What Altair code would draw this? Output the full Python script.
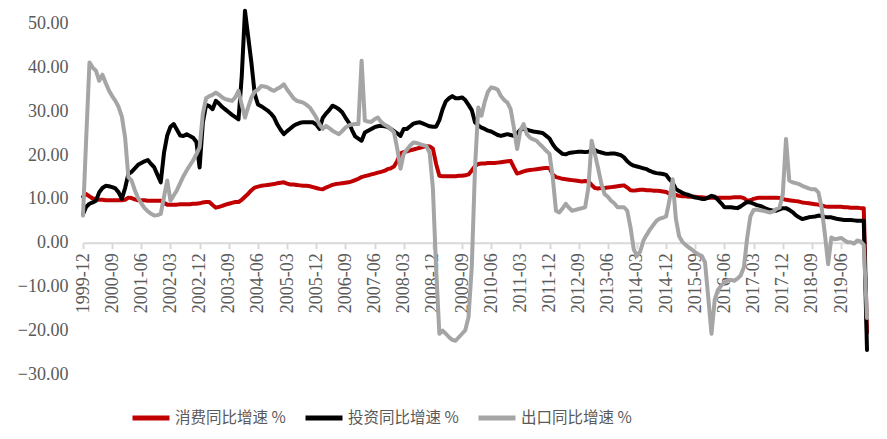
import altair as alt
import pandas as pd

months = pd.period_range("1999-12", periods=243, freq="M").strftime("%Y-%m").tolist()
tick_labels = months[::9]

series_names = ["消费同比增速 %", "投资同比增速 %", "出口同比增速 %"]
series_colors = ["#C00000", "#000000", "#A5A5A5"]

consumption = [
    10.5, 11.1, 10.6, 10.1, 10.0, 9.8, 9.8, 9.7, 9.7, 9.7,
    9.7, 9.7, 9.7, 9.8, 10.3, 10.2, 9.9, 9.7, 9.7, 9.7,
    9.6, 9.6, 9.6, 9.6, 9.6, 9.1, 8.7, 8.7, 8.7, 8.7,
    8.8, 8.8, 8.8, 8.8, 8.9, 8.9, 9.0, 9.2, 9.3, 9.3,
    8.6, 8.0, 8.2, 8.4, 8.7, 8.9, 9.1, 9.3, 9.3, 9.8,
    10.5, 11.2, 12.0, 12.6, 12.8, 13.0, 13.1, 13.2, 13.3, 13.4,
    13.6, 13.7, 13.8, 13.5, 13.3, 13.3, 13.2, 13.1, 13.0, 13.0,
    12.9, 12.7, 12.5, 12.3, 12.2, 12.6, 12.9, 13.2, 13.4, 13.5,
    13.6, 13.7, 13.8, 14.0, 14.3, 14.6, 15.0, 15.2, 15.4, 15.6,
    15.8, 16.0, 16.2, 16.4, 16.8, 17.0, 17.4, 18.7, 20.4, 20.7,
    20.9, 21.1, 21.3, 21.5, 21.7, 21.9, 22.1, 22.0, 21.5, 18.0,
    15.3, 15.2, 15.2, 15.2, 15.2, 15.2, 15.3, 15.3, 15.4, 15.6,
    16.5, 17.5, 18.0, 18.1, 18.1, 18.2, 18.2, 18.2, 18.3, 18.4,
    18.5, 18.6, 18.7, 17.2, 15.8, 16.0, 16.3, 16.5, 16.6, 16.7,
    16.8, 16.9, 17.0, 17.1, 17.0, 15.6, 15.0, 14.8, 14.6, 14.5,
    14.4, 14.3, 14.2, 14.1, 14.0, 14.1, 14.0, 13.2, 12.5, 12.4,
    12.5, 12.5, 12.6, 12.7, 12.8, 12.9, 13.0, 13.1, 12.6, 12.0,
    11.9, 12.0, 12.1, 12.1, 12.0, 12.0, 11.9, 11.9, 11.8, 11.7,
    11.6, 11.2, 11.0, 10.9, 10.7, 10.6, 10.6, 10.5, 10.5, 10.5,
    10.4, 10.4, 10.3, 10.3, 10.3, 10.3, 10.3, 10.3, 10.3, 10.3,
    10.3, 10.4, 10.4, 10.4, 10.2, 9.6, 9.7, 10.0, 10.2, 10.3,
    10.3, 10.3, 10.3, 10.3, 10.3, 10.2, 10.0, 9.8, 9.7, 9.6,
    9.5, 9.4, 9.2, 9.1, 9.0, 8.9, 8.8, 8.7, 8.5, 8.3,
    8.2, 8.2, 8.2, 8.2, 8.2, 8.1, 8.1, 8.0, 8.0, 8.0,
    7.9, 7.9, -20.5,
]

investment = [
    6.5, 8.2, 8.9, 9.2, 9.6, 11.5, 12.5, 13.0, 12.9, 12.7,
    12.4, 11.5, 10.0, 12.5, 15.7, 16.2, 17.0, 17.8, 18.2, 18.6,
    18.9, 18.0, 17.2, 15.5, 13.8, 20.5, 24.5, 26.5, 27.1, 25.8,
    24.5, 24.4, 24.8, 24.4, 24.0, 23.0, 17.2, 27.5, 31.5, 31.2,
    30.5, 32.4, 31.8, 31.0, 30.4, 29.8, 29.2, 28.7, 28.2, 38.0,
    53.0, 47.0, 41.0, 34.0, 31.6, 31.2, 30.7, 30.2, 29.5, 28.6,
    27.0, 25.8, 24.8, 25.5, 26.1, 26.7, 27.1, 27.4, 27.5, 27.5,
    27.5, 27.5, 27.0, 26.0, 28.5, 29.5, 30.3, 31.3, 31.0, 30.5,
    29.8, 28.6, 27.5, 25.8, 24.3, 23.8, 23.3, 25.2, 25.6, 26.0,
    26.4, 26.6, 26.7, 26.6, 26.5, 26.0, 25.5, 25.0, 24.4, 26.0,
    26.0, 26.6, 27.2, 27.4, 27.5, 27.2, 26.9, 26.6, 26.5, 26.5,
    28.0, 30.5, 32.3, 33.0, 33.5, 33.0, 33.0, 33.2, 32.6, 31.5,
    30.3, 27.5, 26.8, 26.3, 26.0, 25.6, 25.4, 25.0, 24.6, 24.4,
    24.6, 24.8, 24.6, 24.4, 25.0, 25.8, 26.0, 25.8, 25.6, 25.4,
    25.3, 25.2, 25.0, 24.4, 23.8, 22.5, 21.5, 20.9, 20.3, 20.2,
    20.5, 20.6, 20.7, 20.8, 20.8, 20.7, 20.8, 21.0, 21.2, 20.8,
    20.6, 20.4, 20.3, 20.4, 20.4, 20.2, 20.0, 19.5, 18.6, 18.0,
    17.6, 17.4, 17.2, 17.0, 16.8, 16.4, 16.1, 15.9, 15.8, 15.7,
    15.5, 14.5, 13.7, 12.3, 11.8, 11.4, 11.1, 10.9, 10.6, 10.3,
    10.2, 10.0, 10.0, 10.3, 10.7, 10.5, 9.8, 9.0, 8.1, 8.1,
    8.1, 8.0, 7.9, 8.3, 8.8, 9.3, 9.2, 8.9, 8.6, 8.4,
    8.1, 7.7, 7.5, 7.3, 7.3, 7.6, 7.9, 7.9, 7.5, 7.0,
    6.3, 5.8, 5.4, 5.6, 5.8, 5.9, 6.0, 6.2, 6.1, 5.9,
    5.8, 5.8, 5.6, 5.4, 5.3, 5.2, 5.2, 5.2, 5.1, 5.0,
    5.0, 5.0, -24.5,
]

exports = [
    6.2, 24.0, 41.2, 40.0, 39.3, 37.0, 38.4, 36.5, 34.8, 33.5,
    32.4, 31.0, 28.8, 24.0, 15.0, 14.2, 12.0, 10.2, 9.0, 7.9,
    7.2, 6.6, 6.2, 6.3, 6.6, 10.5, 14.2, 9.6, 10.8, 12.0,
    13.6, 15.2, 16.5, 17.7, 18.8, 20.2, 21.8, 29.5, 33.0, 33.5,
    33.8, 34.3, 33.8, 33.2, 32.8, 32.6, 32.4, 33.2, 34.7, 31.5,
    28.6, 31.0, 33.2, 34.5, 35.0, 35.8, 35.7, 35.5, 35.0, 34.7,
    35.2, 35.6, 36.2, 35.0, 34.0, 33.0, 32.4, 32.2, 32.0, 31.5,
    30.9, 29.8, 28.6, 27.0, 26.0, 26.7, 26.2, 25.6, 25.2, 24.8,
    25.5, 26.3, 26.8, 27.0, 27.1, 27.1, 41.6, 27.9, 27.7, 27.6,
    28.2, 28.6, 27.6, 27.0, 26.6, 26.0, 25.2, 21.5, 16.9, 20.3,
    21.3, 22.2, 22.9, 22.8, 22.5, 22.3, 22.1, 20.5, 12.5, -6.0,
    -20.8, -20.1, -20.8, -21.6, -22.2, -22.4, -21.6, -20.8, -20.0, -17.0,
    -5.6, 17.0, 30.9, 29.0, 32.2, 34.5, 35.5, 35.3, 35.0, 33.5,
    32.6, 32.0, 30.5, 26.3, 21.4, 25.6, 27.1, 24.8, 24.0, 23.6,
    23.3, 22.5, 21.8, 21.0, 20.3, 14.9, 7.3, 6.9, 7.8, 8.9,
    8.0, 7.3, 7.5, 7.7, 7.9, 8.1, 12.6, 23.3, 20.3, 17.0,
    13.5, 11.1, 10.5, 9.6, 9.0, 8.1, 8.1, 8.1, 7.3, 3.5,
    -1.5, -3.0, -2.0, 0.5, 1.8, 3.0, 4.0, 5.0, 5.5, 5.7,
    6.0, 9.6, 14.5, 5.5, 1.5, 0.2, -0.5, -1.1, -1.6, -2.2,
    -2.7, -3.0, -4.5, -12.5, -20.8, -13.0, -10.8, -9.8, -9.1, -8.6,
    -8.5, -8.7, -8.2, -7.5, -5.6, 1.0, 6.0, 7.5, 7.6, 7.4,
    7.3, 7.1, 6.9, 7.1, 7.7, 8.0, 11.0, 23.7, 14.2, 13.8,
    13.6, 13.4, 13.0, 12.7, 12.4, 12.2, 12.2, 11.5, 8.0, 2.0,
    -4.9, 1.2, 0.8, 0.9, 1.1, 0.6, 0.1, 0.1, -0.2, 0.5,
    0.3, -0.5, -17.2,
]

frames = []
for name, vals in zip(series_names, [consumption, investment, exports]):
    frames.append(pd.DataFrame({"month": months, "value": vals, "series": name}))
df = pd.concat(frames, ignore_index=True)

PLOT_W, PLOT_H = 784, 372
Y_MIN, Y_MAX = -30, 55
zero_from_bottom = PLOT_H * (0 - Y_MIN) / (Y_MAX - Y_MIN)

serif = "Liberation Serif"
label_color = "#595959"

chart = alt.Chart(df).mark_line(strokeWidth=4, strokeJoin="round", strokeCap="round").encode(
    x=alt.X(
        "month:O",
        scale=alt.Scale(domain=months, padding=0),
        axis=alt.Axis(
            values=tick_labels,
            labelAngle=-90,
            title=None,
            offset=-zero_from_bottom,
            domainColor="#D9D9D9",
            domainWidth=2,
            tickColor="#D9D9D9",
            tickWidth=2,
            tickSize=6,
            labelPadding=4,
            labelFont=serif,
            labelFontSize=18,
            labelColor=label_color,
            grid=False,
        ),
    ),
    y=alt.Y(
        "value:Q",
        scale=alt.Scale(domain=[Y_MIN, Y_MAX], nice=False, zero=False),
        axis=alt.Axis(
            values=[-30, -20, -10, 0, 10, 20, 30, 40, 50],
            format=".2f",
            title=None,
            domain=False,
            ticks=False,
            grid=False,
            labelPadding=15,
            labelFont=serif,
            labelFontSize=18,
            labelColor=label_color,
        ),
    ),
    color=alt.Color(
        "series:N",
        scale=alt.Scale(domain=series_names, range=series_colors),
        legend=alt.Legend(
            orient="none",
            legendX=47,
            legendY=395,
            direction="horizontal",
            title=None,
            symbolType="stroke",
            symbolSize=1369,
            symbolStrokeWidth=5,
            labelFont="Noto Sans CJK SC",
            labelFontSize=15.5,
            labelColor=label_color,
            labelOffset=3,
            columnPadding=9,
        ),
    ),
).properties(
    width=PLOT_W,
    height=PLOT_H,
    autosize="none",
    padding={"left": 83, "top": 2, "right": 20, "bottom": 65},
    background="white",
).configure_view(stroke=None)

chart.save("out.html", embed_options={"renderer": "svg", "actions": False})
